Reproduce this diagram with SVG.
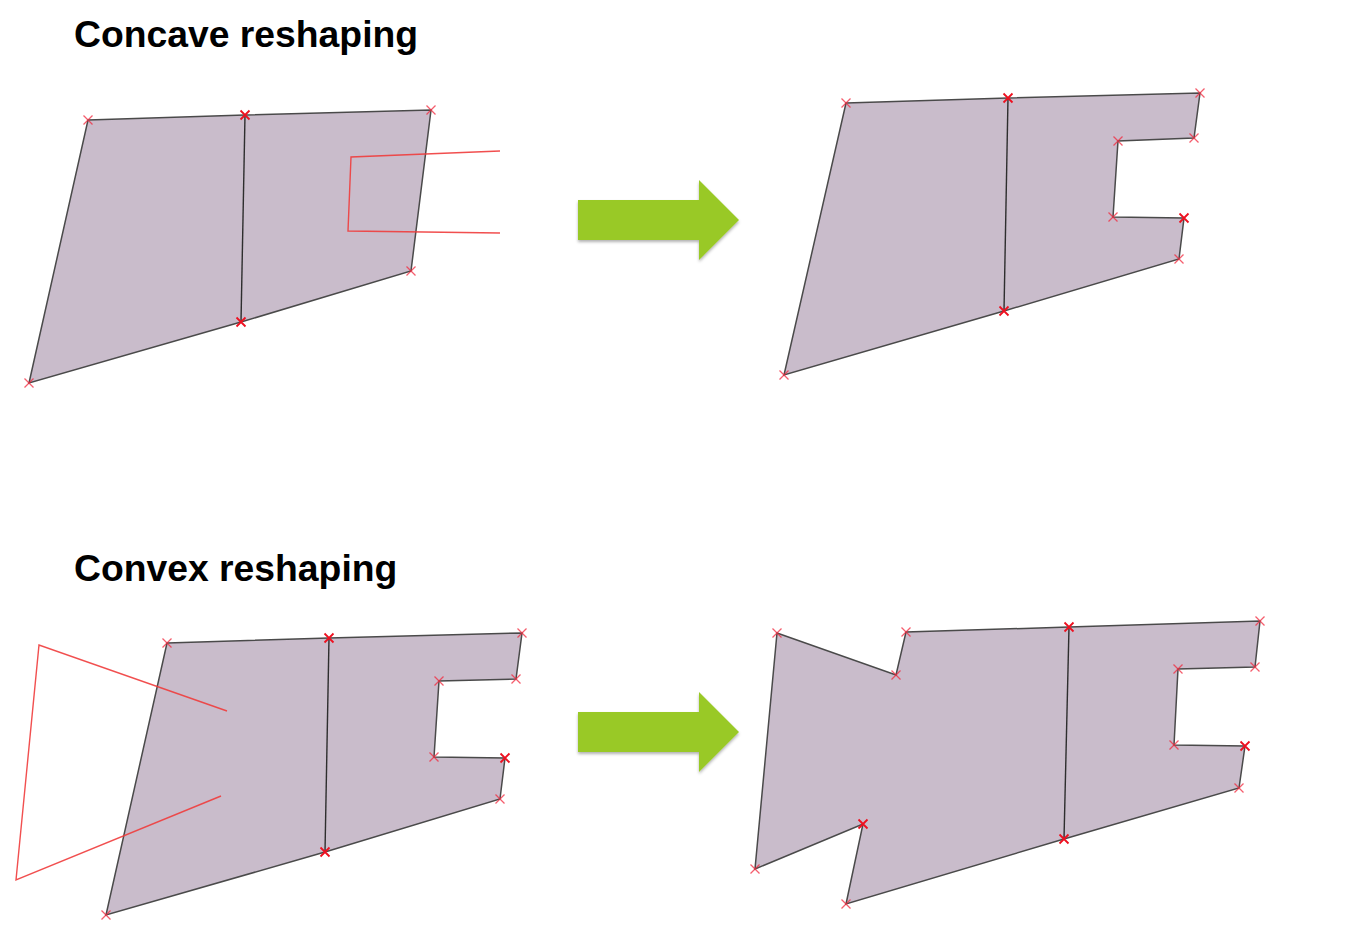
<svg xmlns="http://www.w3.org/2000/svg" xmlns:xlink="http://www.w3.org/1999/xlink" width="1363" height="950" viewBox="0 0 1363 950">
<style>
.title{font-family:"Liberation Sans",Arial,sans-serif;font-weight:bold;font-size:37.3px;fill:#000}
.poly{fill:#c9bccb;stroke:#4a4a4a;stroke-width:1.5;stroke-linejoin:miter}
.div{stroke:#2e2e2e;stroke-width:1.4;fill:none}
.sketch{fill:none;stroke:#f03c3c;stroke-width:1.4;stroke-opacity:0.9;stroke-linejoin:miter}
.arrow{fill:#99c928;filter:url(#sh)}
</style>
<defs>
<filter id="sh" x="-10%" y="-10%" width="130%" height="140%">
<feDropShadow dx="0" dy="2" stdDeviation="1.5" flood-color="#000" flood-opacity="0.3"/>
</filter>
<path id="xl" d="M-4.5,-4.5L4.5,4.5M-4.5,4.5L4.5,-4.5" stroke="#f2283c" stroke-opacity="0.75" stroke-width="1.3" fill="none"/>
<path id="xb" d="M-4.5,-4.5L4.5,4.5M-4.5,4.5L4.5,-4.5" stroke="#ee1020" stroke-width="1.8" fill="none"/>
</defs>
<rect width="1363" height="950" fill="#fff"/>

<g id="title-concave"><text class="title" x="74" y="47">Concave reshaping</text></g>
<g id="title-convex"><text class="title" x="74" y="581">Convex reshaping</text></g>

<g id="concave-before">
<polygon class="poly" points="88,120 245,115 431,110 411,271 241,322 29,383"/>
<line class="div" x1="245" y1="115" x2="241" y2="322"/>
<polyline class="sketch" points="500,151 351,157 348,231 500,233"/>
<use xlink:href="#xl" x="88" y="120"/><use xlink:href="#xb" x="245" y="115"/><use xlink:href="#xl" x="431" y="110"/>
<use xlink:href="#xl" x="411" y="271"/><use xlink:href="#xb" x="241" y="322"/><use xlink:href="#xl" x="29" y="383"/>
</g>

<g id="concave-after">
<polygon class="poly" points="846,103 1008,98 1200,93 1194,138 1118,141 1113,217 1184,218 1179,259 1004,311 784,375"/>
<line class="div" x1="1008" y1="98" x2="1004" y2="311"/>
<use xlink:href="#xl" x="846" y="103"/><use xlink:href="#xb" x="1008" y="98"/><use xlink:href="#xl" x="1200" y="93"/>
<use xlink:href="#xl" x="1194" y="138"/><use xlink:href="#xl" x="1118" y="141"/><use xlink:href="#xl" x="1113" y="217"/>
<use xlink:href="#xb" x="1184" y="218"/><use xlink:href="#xl" x="1179" y="259"/><use xlink:href="#xb" x="1004" y="311"/>
<use xlink:href="#xl" x="784" y="375"/>
</g>

<g id="convex-before">
<polygon class="poly" points="167,643 329,638 522,633 516,679 439,681 434,757 505,758 500,799 325,852 106,915"/>
<line class="div" x1="329" y1="638" x2="325" y2="852"/>
<polyline class="sketch" points="227,711 39,645 16,880 221,796"/>
<use xlink:href="#xl" x="167" y="643"/><use xlink:href="#xb" x="329" y="638"/><use xlink:href="#xl" x="522" y="633"/>
<use xlink:href="#xl" x="516" y="679"/><use xlink:href="#xl" x="439" y="681"/><use xlink:href="#xl" x="434" y="757"/>
<use xlink:href="#xb" x="505" y="758"/><use xlink:href="#xl" x="500" y="799"/><use xlink:href="#xb" x="325" y="852"/>
<use xlink:href="#xl" x="106" y="915"/>
</g>

<g id="convex-after">
<polygon class="poly" points="777,633 896,675 906,632 1069,627 1260,621 1255,667 1178,669 1174,745 1245,746 1239,788 1064,839 846,904 863,824 755,869"/>
<line class="div" x1="1069" y1="627" x2="1064" y2="839"/>
<use xlink:href="#xl" x="777" y="633"/><use xlink:href="#xl" x="896" y="675"/><use xlink:href="#xl" x="906" y="632"/>
<use xlink:href="#xb" x="1069" y="627"/><use xlink:href="#xl" x="1260" y="621"/><use xlink:href="#xl" x="1255" y="667"/>
<use xlink:href="#xl" x="1178" y="669"/><use xlink:href="#xl" x="1174" y="745"/><use xlink:href="#xb" x="1245" y="746"/>
<use xlink:href="#xl" x="1239" y="788"/><use xlink:href="#xb" x="1064" y="839"/><use xlink:href="#xl" x="846" y="904"/>
<use xlink:href="#xb" x="863" y="824"/><use xlink:href="#xl" x="755" y="869"/>
</g>

<g id="connectors">
<polygon class="arrow" points="578,200 699,200 699,180 739,220 699,260 699,240 578,240"/>
<polygon class="arrow" points="578,712 699,712 699,692 739,732 699,772 699,752 578,752"/>
</g>
</svg>
